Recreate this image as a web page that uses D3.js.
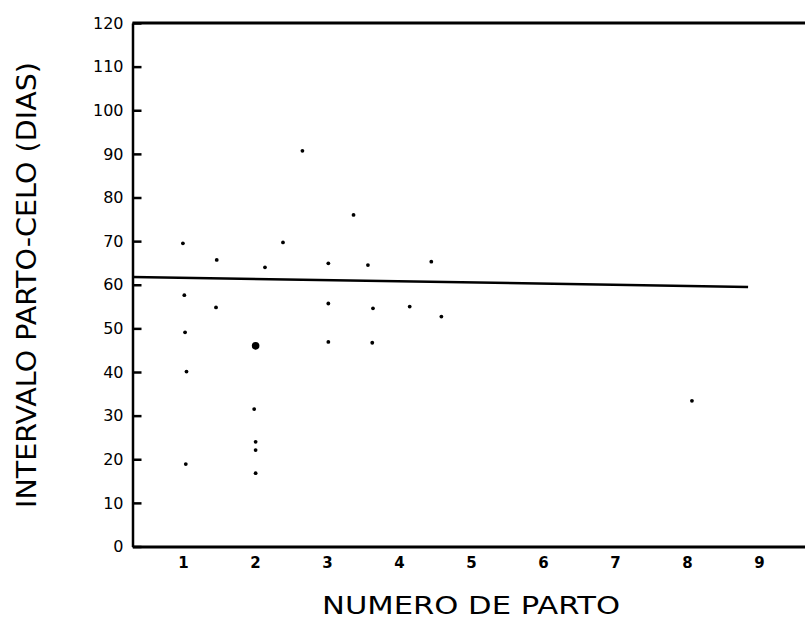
<!DOCTYPE html>
<html>
<head>
<meta charset="utf-8">
<script src="https://cdn.jsdelivr.net/npm/d3@7"></script>
<style>
  html, body { margin: 0; padding: 0; background: #fff; }
  svg { display: block; }
  text { font-family: "DejaVu Sans", sans-serif; fill: #000; }
</style>
</head>
<body>
<svg id="chart" width="805" height="622"></svg>
<script>
// scatter of calving-to-heat interval by calving number, with fitted line

const xTicks = [1, 2, 3, 4, 5, 6, 7, 8, 9];
const yTicks = [0, 10, 20, 30, 40, 50, 60, 70, 80, 90, 100, 110, 120];

const partoNum = [1.0, 2.39, 2.66, 3.37, 1.47, 2.14, 3.02, 3.57, 1.02, 1.46, 3.02, 3.64, 1.03,
                  2.01, 3.02, 3.63, 1.05, 1.99, 2.01, 2.01, 2.01, 1.04, 4.45, 4.15, 4.59, 8.07];
const intervalo = [69.5, 69.7, 90.7, 76.0, 65.7, 64.0, 64.9, 64.5, 57.6, 54.8, 55.7, 54.6, 49.1,
                   46.0, 46.9, 46.7, 40.1, 31.5, 24.0, 22.1, 16.8, 18.9, 65.3, 55.0, 52.7, 33.4];
// overlapping observations (drawn as a bigger dot)
const repeticiones = [1, 1, 1, 1, 1, 1, 1, 1, 1, 1, 1, 1, 1,
                      2, 1, 1, 1, 1, 1, 1, 1, 1, 1, 1, 1, 1];

// regression line end points
const lineaX = [0.3, 8.85];
const lineaY = [61.8, 59.5];

const svg = d3.select("#chart");

const x = d3.scaleLinear().domain([0.3, 9.7]).range([132.5, 809.3]);
const y = d3.scaleLinear().domain([0, 120]).range([546.5, 23]);

// top frame line
svg.append("line")
  .attr("x1", x(0.3)).attr("x2", x(9.7))
  .attr("y1", y(120)).attr("y2", y(120))
  .attr("stroke", "#000").attr("stroke-width", 3);

// y axis, ticks pointing inward
const yAxis = svg.append("g")
  .attr("transform", `translate(${x(0.3)},0)`)
  .call(d3.axisLeft(y).tickValues(yTicks).tickSize(-9).tickSizeOuter(0).tickPadding(9));
yAxis.select(".domain").attr("stroke-width", 2.5);
yAxis.selectAll(".tick line").attr("stroke-width", 2.5);
yAxis.selectAll(".tick text").attr("font-size", 16);

// x axis, no tick marks
const xAxis = svg.append("g")
  .attr("transform", `translate(0,${y(0)})`)
  .call(d3.axisBottom(x).tickValues(xTicks).tickSize(0).tickSizeOuter(0).tickPadding(11));
xAxis.select(".domain").attr("stroke-width", 3);
xAxis.selectAll(".tick text").attr("font-size", 15).attr("font-weight", "bold");

// regression line
svg.append("path")
  .datum(d3.zip(lineaX, lineaY))
  .attr("fill", "none")
  .attr("stroke", "#000")
  .attr("stroke-width", 2.5)
  .attr("d", d3.line().x(d => x(d[0])).y(d => y(d[1])));

// points
svg.append("g")
  .selectAll("circle")
  .data(d3.range(partoNum.length))
  .join("circle")
  .attr("cx", i => x(partoNum[i]))
  .attr("cy", i => y(intervalo[i]))
  .attr("r", i => repeticiones[i] > 1 ? 3.8 : 1.9)
  .attr("fill", "#000");

// axis titles
svg.append("text")
  .attr("x", 471).attr("y", 614)
  .attr("text-anchor", "middle")
  .attr("font-size", 25)
  .attr("textLength", 298)
  .attr("lengthAdjust", "spacingAndGlyphs")
  .text("NUMERO DE PARTO");

svg.append("text")
  .attr("transform", "translate(36,285) rotate(-90)")
  .attr("text-anchor", "middle")
  .attr("font-size", 26)
  .attr("textLength", 446)
  .attr("lengthAdjust", "spacingAndGlyphs")
  .text("INTERVALO PARTO-CELO (DIAS)");
</script>
</body>
</html>
